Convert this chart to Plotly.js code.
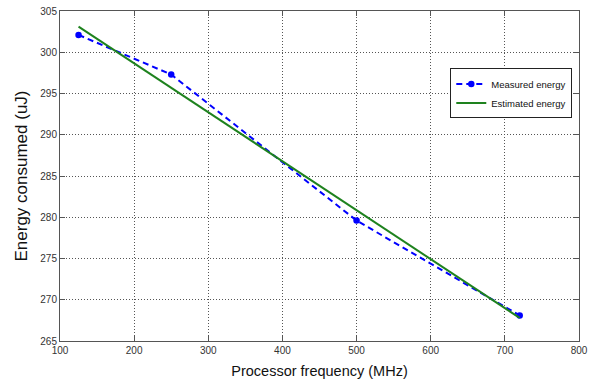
<!DOCTYPE html>
<html>
<head>
<meta charset="utf-8">
<script src="https://cdn.plot.ly/plotly-3.0.1.min.js"></script>
<style>html,body{margin:0;padding:0;background:#fff;}#chart{width:589px;height:385px;}</style>
</head>
<body>
<div id="chart"></div>
<script>
const frequencyMHz = [125, 250, 500, 720];
const measuredEnergy = [302.1, 297.3, 279.6, 268.1];
const estimatedEnergy = [303.1, 295.7, 280.85, 267.8];
const xTicks = [100, 200, 300, 400, 500, 600, 700, 800];
const yTicks = [265, 270, 275, 280, 285, 290, 295, 300, 305];

const traces = [
  {
    x: frequencyMHz, y: measuredEnergy, name: 'Measured energy',
    type: 'scatter', mode: 'lines+markers',
    line: {color: '#0000ff', width: 2, dash: '6px,4px'},
    marker: {color: '#0000ff', size: 6.5, symbol: 'circle'}
  },
  {
    x: frequencyMHz, y: estimatedEnergy, name: 'Estimated energy',
    type: 'scatter', mode: 'lines',
    line: {color: '#1e821e', width: 2}
  }
];

const axisCommon = {
  showline: true, linecolor: '#555', linewidth: 1, mirror: 'allticks',
  ticks: 'inside', ticklen: 5, tickcolor: '#555',
  showgrid: true, gridcolor: '#555', griddash: '1px,2px', gridwidth: 1,
  zeroline: false, ticklabeloverflow: 'allow',
  tickfont: {family: 'Liberation Sans, Arial, sans-serif', size: 10, color: '#333'}
};

const layout = {
  width: 589, height: 385,
  margin: {l: 60, r: 10, t: 11, b: 44},
  paper_bgcolor: '#fff', plot_bgcolor: '#fff',
  font: {family: 'Liberation Sans, Arial, sans-serif'},
  xaxis: Object.assign({}, axisCommon, {
    range: [100, 800], tickvals: xTicks, ticktext: xTicks.map(String),
    title: {text: 'Processor frequency (MHz)', font: {size: 14.5, color: '#111'}, standoff: 10}
  }),
  yaxis: Object.assign({}, axisCommon, {
    range: [265, 305], tickvals: yTicks, ticktext: yTicks.map(String),
    title: {text: 'Energy consumed (uJ)', font: {size: 17, color: '#111'}, standoff: 8}
  }),
  showlegend: true,
  legend: {
    x: 0.752, y: 0.826, xanchor: 'left', yanchor: 'top',
    bgcolor: '#fff', bordercolor: '#222', borderwidth: 1,
    font: {size: 9.5, color: '#111'}, itemwidth: 30, tracegroupgap: 0
  }
};

Plotly.newPlot('chart', traces, layout, {displayModeBar: false, staticPlot: true});
</script>
</body>
</html>
